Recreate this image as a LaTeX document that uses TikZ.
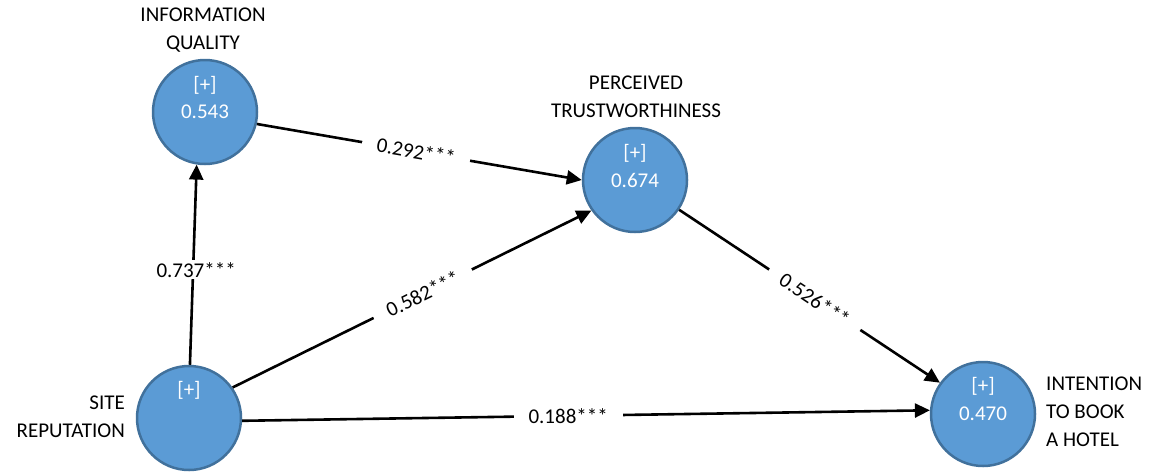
\documentclass[tikz,border=0pt]{standalone}
\usepackage{fontspec}
\setmainfont{Carlito}
\usetikzlibrary{arrows.meta}
\definecolor{lvfill}{HTML}{5B9BD5}
\definecolor{lvedge}{HTML}{41719C}
\begin{document}
\begin{tikzpicture}[x=1pt,y=-1pt,
  latent/.style={circle, fill=lvfill, draw=lvedge, line width=2.5pt,
    minimum size=104pt, inner sep=0pt, text=white,
    font=\fontsize{21}{26}\selectfont},
  plusmark/.style={text=white, inner sep=0pt, font=\fontsize{21}{26}\selectfont},
  caption/.style={inner sep=0pt, font=\fontsize{21}{28}\selectfont},
  link/.style={line width=2.6pt, -{Triangle[length=15pt,width=14pt]}},
  coef/.style={fill=white, inner xsep=15pt, inner ysep=2pt,
    font=\fontsize{21}{26}\selectfont}
]
\useasboundingbox (0,0) rectangle (1155,472);

% latent variables
\node[latent] (iq) at (205,112) {0.543};
\node[latent] (pt) at (635,180) {0.674};
\node[latent] (sr) at (189,418) {};
\node[latent] (ih) at (983,414) {0.470};

% reflective markers
\node[plusmark] (iqp) at ([yshift=27pt]iq.center) {[+]};
\node[plusmark] (ptp) at ([yshift=27pt]pt.center) {[+]};
\node[plusmark] (srp) at ([yshift=28pt]sr.center) {[+]};
\node[plusmark] (ihp) at ([yshift=28pt]ih.center) {[+]};

% construct names
\node[caption, align=center] (iqname) at (203,30) {INFORMATION\\QUALITY};
\node[caption, align=center] (ptname) at (636,97) {PERCEIVED\\TRUSTWORTHINESS};
\node[caption, align=right, anchor=east] (srname) at (125,417) {SITE\\REPUTATION};
\node[caption, align=left, anchor=west] (ihname) at (1046,412) {INTENTION\\TO BOOK\\A HOTEL};

% structural paths with coefficients
\draw[link] (sr.89) -- node[coef, pos=0.475, xshift=3pt] {0.737***} (iq.261);
\draw[link] (iq.-13) -- node[coef, sloped, pos=0.49] {0.292***} (pt.west);
\draw[link] (sr.35) -- node[coef, sloped, pos=0.53] {0.582***} (pt.215);
\draw[link] (pt.-34) -- node[coef, sloped, pos=0.52] {0.526***} (ih.144);
\draw[link] (sr.-3) -- node[coef, pos=0.474] {0.188***} (ih.176);
\end{tikzpicture}
\end{document}
